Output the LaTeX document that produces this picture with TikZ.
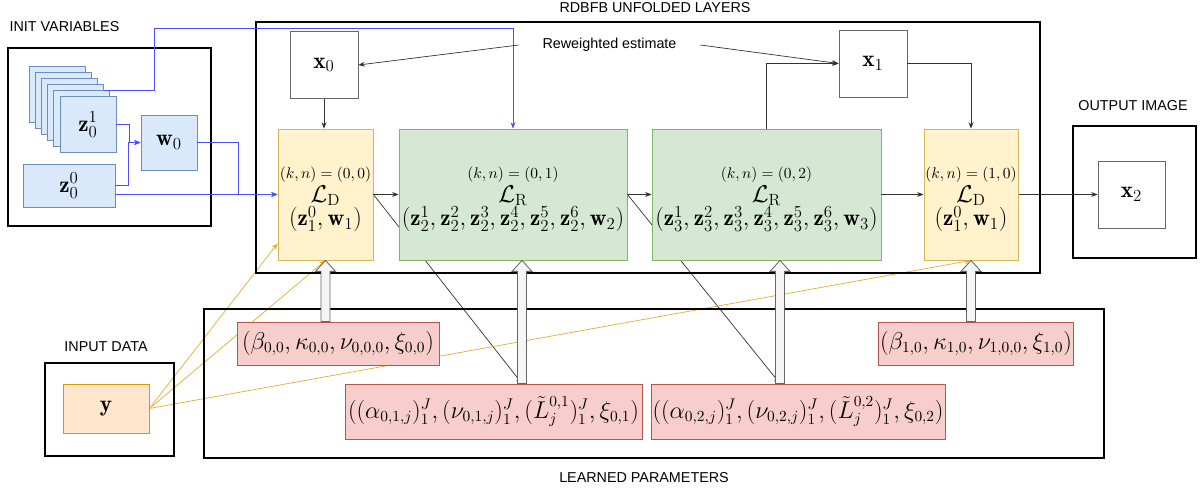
\documentclass[tikz,border=0pt]{standalone}
\usepackage{fontspec}
\usepackage{amsmath}
\usepackage{tikz}
\usetikzlibrary{arrows.meta,calc,backgrounds}
\newfontfamily\labelfont{Liberation Sans}
\definecolor{initblue}{HTML}{DAE8FC}
\definecolor{initblueline}{HTML}{6C8EBF}
\definecolor{layergreen}{HTML}{D5E8D4}
\definecolor{layergreenline}{HTML}{82B366}
\definecolor{layeryellow}{HTML}{FFF2CC}
\definecolor{layeryellowline}{HTML}{D6B656}
\definecolor{paramred}{HTML}{F8CECC}
\definecolor{paramredline}{HTML}{B85450}
\definecolor{dataorange}{HTML}{FFE6CC}
\definecolor{dataorangeline}{HTML}{D79B00}
\definecolor{wireblue}{RGB}{77,77,255}
\definecolor{wireorange}{RGB}{228,172,48}
\newcommand{\layerid}[1]{{\fontsize{11}{13}\selectfont\rule{0pt}{15pt}$#1$}}
\newcommand{\flexarrow}[2]{%
  \draw[hollow] let \p1=(#1), \p2=(#2) in
    (\x1-3.2pt,\y1) -- (\x1-3.2pt,\y2-7.8pt) -- (\x1-7.1pt,\y2-7.8pt) -- (\x1,\y2)
    -- (\x1+7.1pt,\y2-7.8pt) -- (\x1+3.2pt,\y2-7.8pt) -- (\x1+3.2pt,\y1) -- cycle;}

\tikzset{
  container/.style={draw=black, line width=2pt},
  caption/.style={font=\labelfont\fontsize{10.2}{12}\selectfont, inner sep=1pt},
  cell/.style={draw, line width=0.6pt, inner sep=1pt, align=center,
    font=\fontsize{16.5}{17}\selectfont},
  initbox/.style={cell, fill=initblue, draw=initblueline},
  dlayer/.style={cell, fill=layeryellow, draw=layeryellowline,
    minimum width=2.375cm, minimum height=3.275cm},
  rlayer/.style={cell, fill=layergreen, draw=layergreenline,
    minimum width=5.7cm, minimum height=3.275cm},
  parbox/.style={cell, fill=paramred, draw=paramredline,
    font=\fontsize{16}{17}\selectfont},
  databox/.style={cell, fill=dataorange, draw=dataorangeline},
  imgbox/.style={cell, fill=white, draw=black!60,
    minimum width=1.7cm, minimum height=1.675cm},
  wire/.style={-{Stealth[length=4.5pt,width=3.5pt]}, line width=0.5pt, draw=black!80},
  bluewire/.style={wire, draw=wireblue},
  orangewire/.style={wire, draw=wireorange},
  hollow/.style={draw=black!60, fill=black!4, line width=0.6pt}
}

\begin{document}
\begin{tikzpicture}[x=0.025cm,y=-0.025cm]
\useasboundingbox (0,0) rectangle (1200,491);

% frames
\draw[container] (8,48) rectangle (211,226);
\draw[container] (256,22) rectangle (1040,273);
\draw[container] (1073,126) rectangle (1196,258);
\draw[container] (204,309) rectangle (1104,458);
\draw[container] (45,363) rectangle (174,456);

\node[caption] (initlbl) at (64.5,27) {INIT VARIABLES};
\node[caption] (layerlbl) at (655,8) {RDBFB UNFOLDED LAYERS};
\node[caption] (outlbl) at (1133,106) {OUTPUT IMAGE};
\node[caption] (inlbl) at (106,347) {INPUT DATA};
\node[caption] (parlbl) at (644,478) {LEARNED PARAMETERS};
\node[caption, minimum width=4.525cm] (rwe) at (609.5,45) {Reweighted estimate};

% init variables
\foreach \i in {0,...,4}
  \node[initbox, minimum width=1.4cm, minimum height=1.4cm] (zs\i) at (57+6.2*\i,94+6.1*\i) {};
\node[initbox, minimum width=1.4cm, minimum height=1.4cm] (z01) at (88,124.5) {$\mathbf{z}_0^1$};
\node[initbox, minimum width=2.3cm, minimum height=1.075cm] (z00) at (69,185.5) {$\mathbf{z}_0^0$};
\node[initbox, minimum width=1.4cm, minimum height=1.375cm] (w0) at (169,142.5) {$\mathbf{w}_0$};

% unfolded layers
\node[imgbox] (x0) at (324,65) {$\mathbf{x}_0$};
\node[imgbox] (x1) at (873,63.5) {$\mathbf{x}_1$};
\node[dlayer] (LD0) at (325.5,194.5) {\layerid{(k,n)=(0,0)}\\ $\mathcal{L}_{\mathrm{D}}$\\ $(\mathbf{z}^0_1,\mathbf{w}_1)$};
\node[rlayer] (LR1) at (513,194.5) {\layerid{(k,n)=(0,1)}\\ $\mathcal{L}_{\mathrm{R}}$\\
  $(\mathbf{z}^1_2,\mathbf{z}^2_2,\mathbf{z}^3_2,\mathbf{z}^4_2,\mathbf{z}^5_2,\mathbf{z}^6_2,\mathbf{w}_2)$};
\node[rlayer, minimum width=5.725cm] (LR2) at (766.5,194.5) {\layerid{(k,n)=(0,2)}\\ $\mathcal{L}_{\mathrm{R}}$\\
  $(\mathbf{z}^1_3,\mathbf{z}^2_3,\mathbf{z}^3_3,\mathbf{z}^4_3,\mathbf{z}^5_3,\mathbf{z}^6_3,\mathbf{w}_3)$};
\node[dlayer, minimum width=2.35cm] (LD1) at (971,194.5) {\layerid{(k,n)=(1,0)}\\ $\mathcal{L}_{\mathrm{D}}$\\ $(\mathbf{z}^0_1,\mathbf{w}_1)$};
\node[imgbox, minimum width=1.675cm] (x2) at (1131.5,194.5) {$\mathbf{x}_2$};

% input data and learned parameters
\node[databox, minimum width=2.15cm, minimum height=1.225cm] (y) at (106,408.5) {$\mathbf{y}$};
\node[parbox, minimum width=5.05cm, minimum height=1.075cm] (b00) at (338,343.5)
  {$(\beta_{0,0},\kappa_{0,0},\nu_{0,0,0},\xi_{0,0})$};
\node[parbox, minimum width=7.425cm, minimum height=1.375cm] (p01) at (493.5,411.5)
  {$((\alpha_{0,1,j})_1^J,(\nu_{0,1,j})_1^J,(\tilde{L}_j^{0,1})_1^J,\xi_{0,1})$};
\node[parbox, minimum width=7.35cm, minimum height=1.375cm] (p02) at (798,411.5)
  {$((\alpha_{0,2,j})_1^J,(\nu_{0,2,j})_1^J,(\tilde{L}_j^{0,2})_1^J,\xi_{0,2})$};
\node[parbox, minimum width=4.75cm, minimum height=1.075cm] (b10) at (976,343.5)
  {$(\beta_{1,0},\kappa_{1,0},\nu_{1,0,0},\xi_{1,0})$};

\coordinate (h1) at ([xshift=0.225cm]LR1.south);
\coordinate (h2) at ([xshift=0.3375cm]LR2.south);
\coordinate (ydin) at ([yshift=0.425cm]LD0.south west);
\coordinate (bluetop) at (154,28);

% wires behind the boxes
\begin{scope}[on background layer]
\draw[wire] (LD0.east) -- (h1 |- p01.north);
\draw[wire] (LR1.east) -- (h2 |- p02.north);
\draw[orangewire] (y.east) -- (ydin);
\draw[orangewire] (y.east) -- (LD0.south);
\draw[orangewire] (y.east) -- (LD1.south);
\end{scope}

% init wires
\draw[bluewire] (z01.east) -- ++(13,0) |- (w0.west);
\draw[bluewire] (z00.east) -- ++(13,0) |- (w0.west);
\draw[bluewire] (z00.east |- LD0.west) -- (LD0.west);
\draw[bluewire] (w0.east) -- ++(41,0) |- (LD0.west);
\draw[bluewire] (zs3.east |- zs4.north) -| (bluetop) -| (LR1.north);

% layer wires
\draw[wire] (x0.south) -- (x0.south |- LD0.north);
\draw[wire] (rwe.west) -- (x0.east);
\draw[wire] (rwe.east) -- (x1.west);
\draw[wire] (LR2.north) |- (x1.west);
\draw[wire] (x1.east) -| (LD1.north);
\draw[wire] (LD0.east) -- (LR1.west);
\draw[wire] (LR1.east) -- (LR2.west);
\draw[wire] (LR2.east) -- (LD1.west);
\draw[wire] (LD1.east) -- (x2.west);

% parameter arrows
\flexarrow{LD0.south |- b00.north}{LD0.south}
\flexarrow{h1 |- p01.north}{h1}
\flexarrow{h2 |- p02.north}{h2}
\flexarrow{LD1.south |- b10.north}{LD1.south}
\end{tikzpicture}
\end{document}
